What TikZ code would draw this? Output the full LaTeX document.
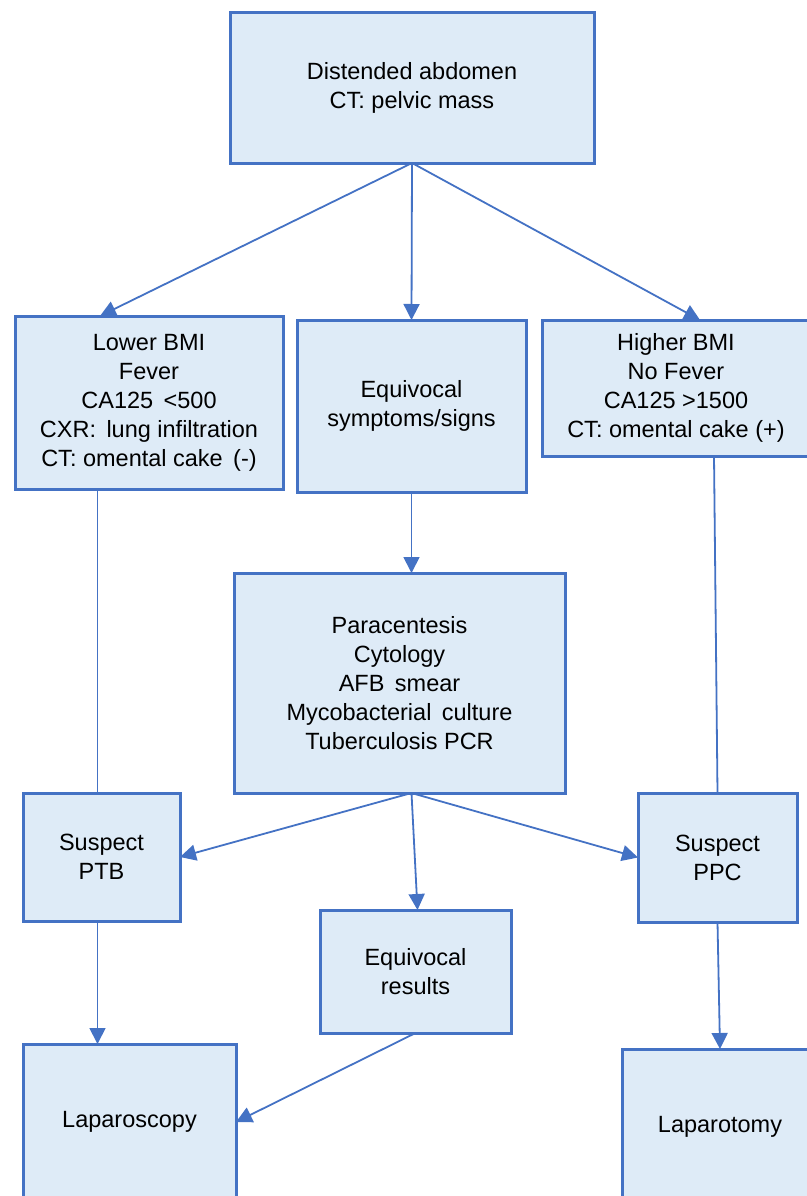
\documentclass[tikz,border=0pt]{standalone}
\usepackage{fontspec}
\setmainfont{Liberation Sans}
\definecolor{flowBlue}{HTML}{4472C4}
\definecolor{flowFill}{HTML}{DEEBF7}
\usetikzlibrary{arrows.meta,positioning}

\begin{document}
\begin{tikzpicture}[
  box/.style={draw=flowBlue,line width=3pt,fill=flowFill,inner sep=4pt,outer sep=0pt,
              font=\fontsize{23.5}{29}\selectfont,align=center},
  arr/.style={-{Triangle[length=16pt,width=16pt]},flowBlue,line width=1.8pt},
  ln/.style={flowBlue,line width=1.8pt}
]
  \useasboundingbox (0,0) rectangle (806pt,-1196pt);

  % Top
  \node[box,minimum width=364pt,minimum height=150pt] (abd) at (412pt,-88pt)
        {Distended abdomen\\CT: pelvic mass};

  % Row 1 -- presentations
  \node[box,minimum width=268pt,minimum height=173pt,below=153pt of abd,xshift=-263pt] (lowbmi)
        {Lower BMI\\Fever\\CA125 \,<500\\CXR: \,lung infiltration\\CT: omental cake \,(-)};
  \node[box,minimum width=229pt,minimum height=172pt,below=157pt of abd,xshift=-0.5pt] (eqsym)
        {Equivocal\\symptoms/signs};
  \node[box,minimum width=267pt,minimum height=136pt,below=157pt of abd,xshift=264pt] (highbmi)
        {Higher BMI\\No Fever\\CA125 >1500\\CT: omental cake (+)};

  \draw[arr] (abd.south) -- ([xshift=-49pt]lowbmi.north);
  \draw[arr] (abd.south) -- (eqsym.north);
  \draw[arr] (abd.south) -- ([xshift=24pt]highbmi.north);

  % Row 2 -- work-up
  \node[box,minimum width=331pt,minimum height=220pt,below=81pt of eqsym,xshift=-12pt] (para)
        {Paracentesis\\Cytology\\AFB \,smear\\Mycobacterial \,culture\\Tuberculosis PCR};

  \draw[arr] (eqsym.south) -- (eqsym.south |- para.north);

  % Row 3 -- suspicion
  \node[box,minimum width=157pt,minimum height=128pt,below=304pt of lowbmi,xshift=-47.5pt] (ptb)
        {Suspect\\PTB};
  \node[box,minimum width=159pt,minimum height=129pt,below=337pt of highbmi,xshift=41.5pt] (ppc)
        {Suspect\\PPC};
  \node[box,minimum width=191pt,minimum height=123pt,below=117pt of para,xshift=16pt] (eqres)
        {Equivocal\\results};

  \draw[ln] ([xshift=-4pt]ptb.north) -- ([xshift=-4pt]ptb.north |- lowbmi.south);
  \draw[ln] ([xshift=38pt]highbmi.south) -- (ppc.north);
  \draw[arr] ([xshift=12pt]para.south) -- (ptb.east);
  \draw[arr] ([xshift=12pt]para.south) -- ([xshift=2pt]eqres.north);
  \draw[arr] ([xshift=12pt]para.south) -- (ppc.west);

  % Row 4 -- surgery
  \node[box,minimum width=213pt,minimum height=156pt,below=123pt of ptb,xshift=28pt] (lapsc)
        {Laparoscopy};
  \node[box,minimum width=196pt,minimum height=156pt,below=127pt of ppc,xshift=2.5pt] (lapto)
        {Laparotomy};

  \draw[arr] ([xshift=-4pt]ptb.south) -- ([xshift=-4pt]ptb.south |- lapsc.north);
  \draw[arr] (eqres.south) -- (lapsc.east);
  \draw[arr] (ppc.south) -- (lapto.north);
\end{tikzpicture}
\end{document}
